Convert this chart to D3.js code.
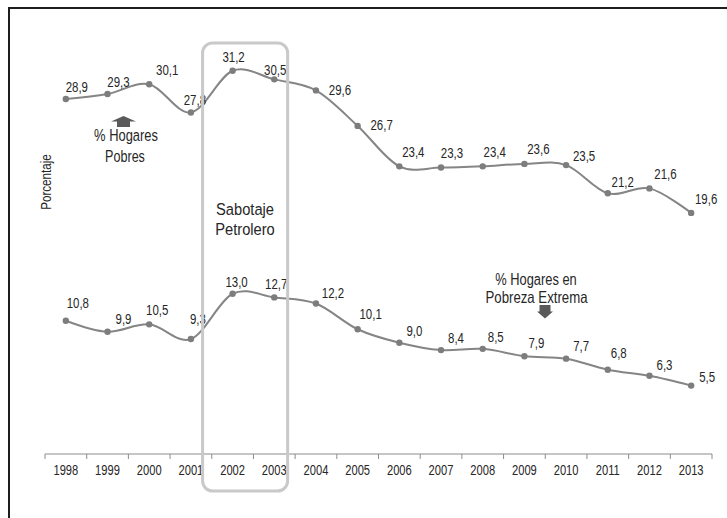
<!DOCTYPE html>
<html lang="es">
  <head>
    <meta charset="UTF-8" />
    <title>Hogares pobres</title>
    <style>
      body { margin: 0; background: #fff; }
      text { font-family: "Liberation Sans", Arial, sans-serif; fill: #262626; }
    </style>
    <script src="https://d3js.org/d3.v7.min.js"></script>
  </head>
  <body>
    <svg width="727" height="518"></svg>
    <script>
      var years = ["1998", "1999", "2000", "2001", "2002", "2003", "2004", "2005",
                   "2006", "2007", "2008", "2009", "2010", "2011", "2012", "2013"];
      var pobres = [28.9, 29.3, 30.1, 27.8, 31.2, 30.5, 29.6, 26.7, 23.4, 23.3, 23.4, 23.6, 23.5, 21.2, 21.6, 19.6];
      var extrema = [10.8, 9.9, 10.5, 9.3, 13.0, 12.7, 12.2, 10.1, 9.0, 8.4, 8.5, 7.9, 7.7, 6.8, 6.3, 5.5];

      // label nudges (as placed by hand in the original)
      var pobresOff = [[11,-7],[11,-7],[18,-9],[4,-7],[1,-9],[1,-4],[24,5],[24,4],
                       [14,-9],[11,-10],[12,-9],[14,-10],[18,-4],[15,-6],[16,-9],[15,-9]];
      var extremaOff = [[12,-13],[16,-8],[8,-9],[7,-15],[4,-7],[2,-8],[17,-6],[13,-10],
                        [15,-7],[15,-7],[13,-7],[12,-8],[15,-8],[11,-12],[15,-6],[16,-4]];

      var svg = d3.select("svg");
      var es = d3.formatLocale({ decimal: ",", thousands: ".", grouping: [3], currency: ["", ""] });
      var fmt = es.format(".1f");

      var x = d3.scaleBand().domain(years).range([45, 712]).padding(0);
      var y = d3.scaleLinear().domain([0, 33.5]).range([453, 42.6]);
      var cx = (d) => x(d) + x.bandwidth() / 2;

      // narrow-looking text: regular font squeezed horizontally
      function narrow(sel, size, sx) {
        return sel
          .attr("text-anchor", "middle")
          .attr("font-size", size)
          .attr("transform", function (d, i) {
            var p = this.__pos;
            return "translate(" + p[0] + "," + p[1] + ") scale(" + sx + ",1)";
          });
      }
      function note(px, py, txt, size, sx) {
        var t = svg.append("text").text(txt);
        t.node().__pos = [px, py];
        return narrow(t, size, sx);
      }

      // frame (top + left only)
      svg.append("path")
        .attr("d", "M9,518V8H727")
        .attr("fill", "none")
        .attr("stroke", "#1e1e1e")
        .attr("stroke-width", 2);

      // x axis
      var axis = svg.append("g").attr("transform", "translate(0,454)");
      axis.append("line")
        .attr("x1", x.range()[0]).attr("x2", x.range()[1])
        .attr("stroke", "#8c8c8c");
      axis.selectAll(".tk")
        .data(years.concat(["end"]))
        .join("line")
        .attr("x1", (d) => d == "end" ? x.range()[1] : x(d))
        .attr("x2", (d) => d == "end" ? x.range()[1] : x(d))
        .attr("y1", 0).attr("y2", 5)
        .attr("stroke", "#8c8c8c");
      var yrs = axis.selectAll(".yr")
        .data(years)
        .join("text")
        .each(function (d) { this.__pos = [cx(d), 20.5]; })
        .text((d) => d);
      narrow(yrs, 15.5, 0.72);

      // y title
      svg.append("text")
        .attr("transform", "translate(51,182) rotate(-90) scale(0.8,1)")
        .attr("text-anchor", "middle")
        .attr("font-size", 14.5)
        .text("Porcentaje");

      var line = d3.line()
        .curve(d3.curveCardinal.tension(0))
        .x((d, i) => cx(years[i]))
        .y((d) => y(d));

      function drawSeries(vals, offs) {
        svg.append("path")
          .attr("d", line(vals))
          .attr("fill", "none")
          .attr("stroke", "#858585")
          .attr("stroke-width", 2);
        svg.append("g").selectAll("circle")
          .data(vals)
          .join("circle")
          .attr("cx", (d, i) => cx(years[i]))
          .attr("cy", (d) => y(d))
          .attr("r", 3.2)
          .attr("fill", "#7d7d7d");
        var lab = svg.append("g").selectAll("text")
          .data(vals)
          .join("text")
          .each(function (d, i) { this.__pos = [cx(years[i]) + offs[i][0], y(d) + offs[i][1]]; })
          .text((d) => fmt(d));
        narrow(lab, 15.5, 0.74);
      }
      drawSeries(pobres, pobresOff);
      drawSeries(extrema, extremaOff);

      // annotations
      svg.append("path")
        .attr("d", "M111,121.5L123.5,116L136,121.5H130V127H117V121.5Z")
        .attr("fill", "#5a5a5a");
      note(126, 141, "% Hogares", 17, 0.76);
      note(125, 162, "Pobres", 17, 0.74);

      note(536, 285, "% Hogares en", 16.5, 0.78);
      note(536.5, 303, "Pobreza Extrema", 16.5, 0.8);
      svg.append("path")
        .attr("d", "M539.5,305H550.5V311.5H553L545,318.5L537,311.5H539.5Z")
        .attr("fill", "#5a5a5a");

      // highlight box for 2002-2003
      var bw = x.bandwidth();
      var bx0 = cx("2002") - 0.72 * bw;
      var bx1 = cx("2003") + 0.32 * bw;
      svg.append("rect")
        .attr("x", bx0).attr("y", 43)
        .attr("width", bx1 - bx0).attr("height", 491 - 43)
        .attr("rx", 10)
        .attr("fill", "none")
        .attr("stroke", "#c9c9c9")
        .attr("stroke-width", 3);
      note(245, 215, "Sabotaje", 16.5, 0.89);
      note(245, 235, "Petrolero", 16.5, 0.89);
    </script>
  </body>
</html>
